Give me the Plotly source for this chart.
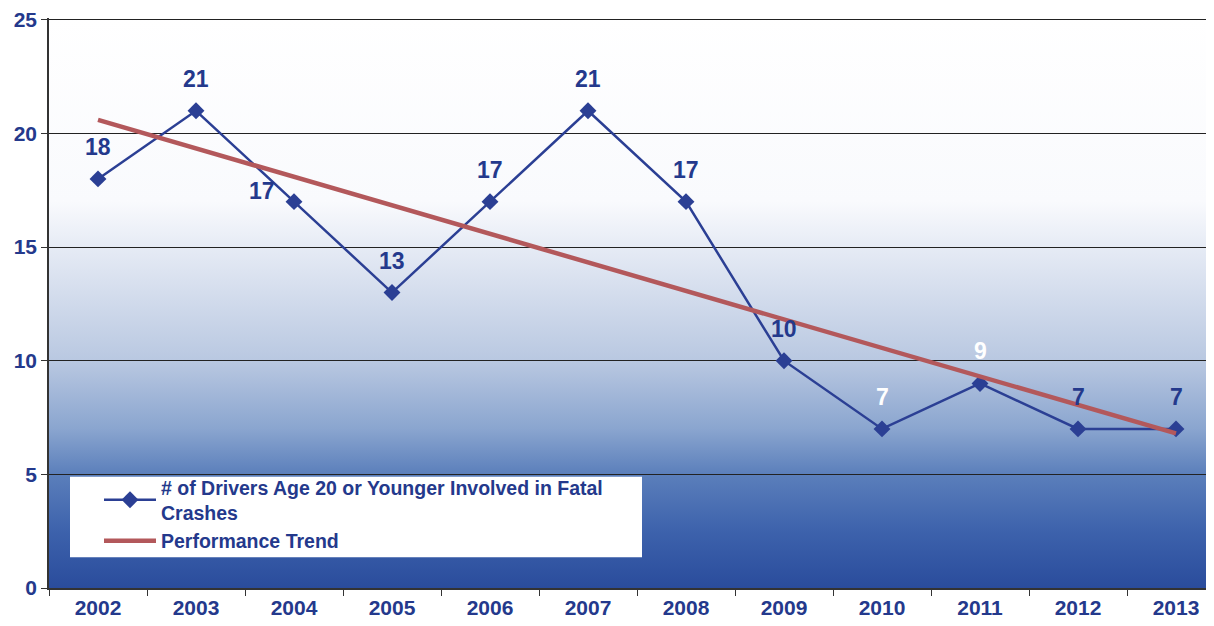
import base64
import plotly.graph_objects as go

years = ["2002", "2003", "2004", "2005", "2006", "2007", "2008", "2009", "2010", "2011", "2012", "2013"]
drivers = [18, 21, 17, 13, 17, 21, 17, 10, 7, 9, 7, 7]
trend_years = ["2002", "2013"]
trend_values = [20.6, 6.8]
y_ticks = [0, 5, 10, 15, 20, 25]

series_name = "# of Drivers Age 20 or Younger Involved in Fatal<br>Crashes"
trend_name = "Performance Trend"

BLUE = "#2B3F94"
TXT = "#24398C"
FONT = "Liberation Sans, Arial, sans-serif"

W, H = 1206, 618
ML, MR, MT, MB = 41, 0, 6, 38
PW = W - ML - MR
PH = H - MT - MB
YTOP = 25.08

def ypx(v):
    # figure pixel row of a value (used only for placing the legend box/legend)
    return MT + PH * (1 - v / YTOP)

# vertical gradient of the plot background (value -> colour)
stops = [(YTOP, "#FFFFFF"), (17, "#F9FAFD"), (15, "#E6EBF5"), (10, "#B9C8E1"), (7, "#8AA5CF"),
         (5, "#5B7FBB"), (2.5, "#3D62AC"), (0, "#2A4C9C")]
svg_stops = "".join('<stop offset="%.4f" stop-color="%s"/>' % ((YTOP - v) / YTOP, c) for v, c in stops)
svg = ('<svg xmlns="http://www.w3.org/2000/svg" width="100" height="100" preserveAspectRatio="none">'
       '<defs><linearGradient id="g" x1="0" y1="0" x2="0" y2="1">' + svg_stops +
       '</linearGradient></defs><rect width="100" height="100" fill="url(#g)"/></svg>')
svg_uri = "data:image/svg+xml;base64," + base64.b64encode(svg.encode()).decode()

fig = go.Figure()

fig.add_trace(go.Scatter(x=years, y=drivers, mode="lines+markers", name=series_name,
                         line=dict(color=BLUE, width=2.5),
                         marker=dict(symbol="diamond", size=13, color=BLUE)))
fig.add_trace(go.Scatter(x=trend_years, y=trend_values, mode="lines", name=trend_name,
                         line=dict(color="#B3585B", width=4.5)))

annotations = []
for i, (yr, v) in enumerate(zip(years, drivers)):
    color = "white" if yr in ("2010", "2011") else TXT
    if yr == "2004":
        xs, ys = -32, 11
    else:
        xs, ys = 0, 32
    annotations.append(dict(x=i, y=v, xref="x", yref="y", text="<b>%d</b>" % v, showarrow=False,
                            xshift=xs, yshift=ys,
                            font=dict(family=FONT, size=23, color=color)))

shapes = [dict(type="rect", xref="paper", yref="paper",
               x0=(62 - ML) / PW, x1=(634 - ML) / PW,
               y0=(MT + PH - 549) / PH, y1=(MT + PH - 468) / PH,
               fillcolor="white", line=dict(width=0), layer="above")]

fig.update_layout(
    width=W, height=H,
    margin=dict(l=ML, r=MR, t=MT, b=MB),
    paper_bgcolor="white", plot_bgcolor="rgba(0,0,0,0)",
    showlegend=True,
    legend=dict(x=(91 - ML) / PW, y=(MT + PH - 459) / PH, xanchor="left", yanchor="top",
                bgcolor="rgba(0,0,0,0)", itemwidth=52, tracegroupgap=0,
                font=dict(family=FONT, size=19.5, color=TXT, weight="bold")),
    images=[dict(source=svg_uri, xref="x domain", yref="y domain", x=0, y=1, sizex=1, sizey=1,
                 xanchor="left", yanchor="top", sizing="stretch", layer="below")],
    shapes=shapes,
    annotations=annotations,
    xaxis=dict(type="category", categoryorder="array", categoryarray=years,
               range=[-0.5, -0.5 + PW / 98.0], tickson="boundaries", ticks="outside", ticklen=6,
               tickcolor="#333", showgrid=False, showline=True, linecolor="#333", linewidth=1.5,
               tickfont=dict(family=FONT, size=21, color=TXT, weight="bold"), zeroline=False),
    yaxis=dict(range=[0, YTOP], tickvals=y_ticks, ticks="outside", ticklen=6, tickcolor="#333",
               showgrid=True, gridcolor="#222", gridwidth=1, showline=True, linecolor="#333",
               linewidth=1.5, zeroline=False, ticklabeloverflow="allow",
               tickfont=dict(family=FONT, size=21, color=TXT, weight="bold")),
)

fig.write_html("out.html")
